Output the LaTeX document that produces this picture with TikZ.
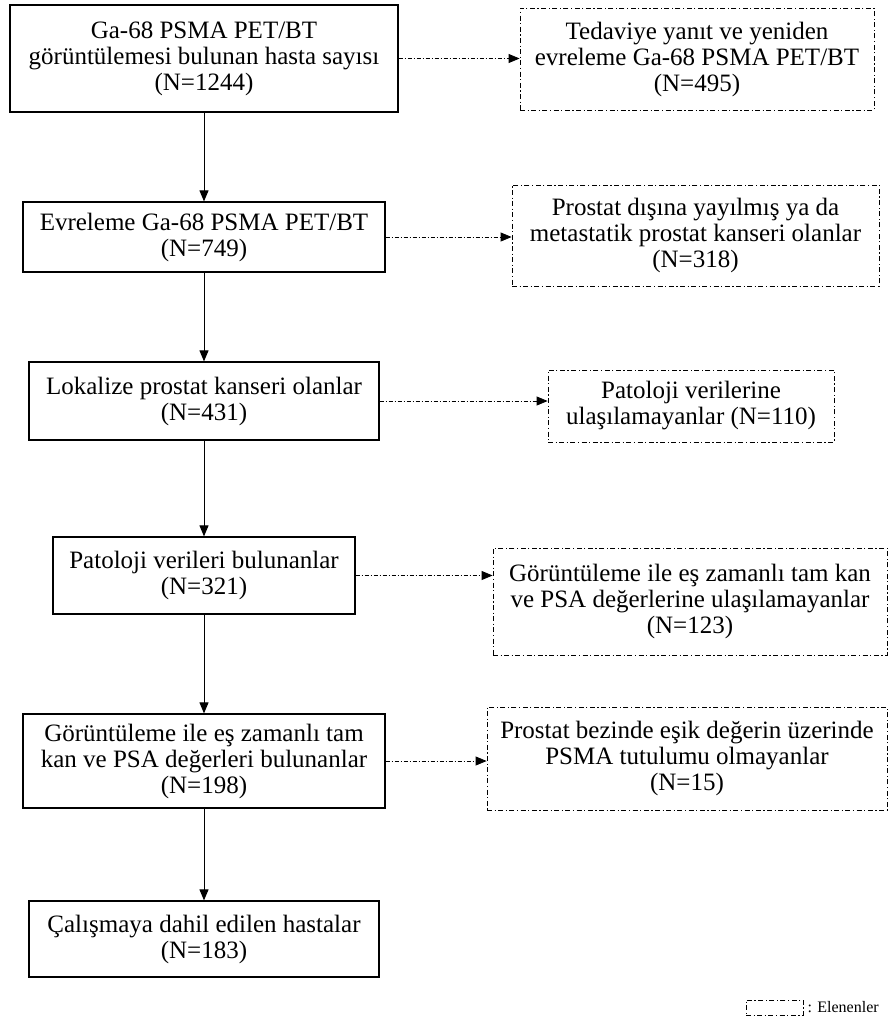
\documentclass[tikz,border=0pt]{standalone}
\usepackage{fontspec}
\setmainfont{Liberation Serif}
\usetikzlibrary{arrows.meta,positioning,calc}
\tikzset{
mainbox/.style={draw,line width=1.2pt,align=center,inner sep=0pt,font=\fontsize{25}{26}\selectfont},
outbox/.style={draw,line width=0.8pt,dash pattern=on 5pt off 2.5pt on 1.2pt off 2.5pt,align=center,inner sep=0pt,font=\fontsize{25}{26}\selectfont},
flow/.style={-{Triangle[length=11pt,width=9pt]},line width=1pt},
exclude/.style={-{Triangle[length=11pt,width=9pt]},line width=0.8pt,dash pattern=on 4pt off 2pt on 1pt off 2pt}
}

\begin{document}
\begin{tikzpicture}[x=1pt,y=-1pt]
\useasboundingbox (0,0) rectangle (888,1020);
% main column
\node[mainbox,minimum width=388pt,minimum height=107pt](all) at (204,58.5){Ga-68 PSMA PET/BT\\görüntülemesi bulunan hasta sayısı\\(N=1244)};
\node[mainbox,minimum width=362pt,minimum height=70pt](stage) at (204,237){Evreleme Ga-68 PSMA PET/BT\\(N=749)};
\node[mainbox,minimum width=350pt,minimum height=78pt](local) at (204,401){Lokalize prostat kanseri olanlar\\(N=431)};
\node[mainbox,minimum width=302pt,minimum height=77pt](patho) at (204,575.5){Patoloji verileri bulunanlar\\(N=321)};
\node[mainbox,minimum width=362pt,minimum height=94pt](blood) at (204,761){Görüntüleme ile eş zamanlı tam\\kan ve PSA değerleri bulunanlar\\(N=198)};
\node[mainbox,minimum width=350pt,minimum height=76pt](incl) at (204,939){Çalışmaya dahil edilen hastalar\\(N=183)};
% excluded
\node[outbox,minimum width=354pt,minimum height=102pt](exA) at (697,59){Tedaviye yanıt ve yeniden\\evreleme Ga-68 PSMA PET/BT\\(N=495)};
\node[outbox,minimum width=367pt,minimum height=101pt](exB) at (695.5,235.5){Prostat dışına yayılmış ya da\\metastatik prostat kanseri olanlar\\(N=318)};
\node[outbox,minimum width=286pt,minimum height=72pt](exC) at (691,406){Patoloji verilerine\\ulaşılamayanlar (N=110)};
\node[outbox,minimum width=394pt,minimum height=107pt](exD) at (690,601.5){Görüntüleme ile eş zamanlı tam kan\\ve PSA değerlerine ulaşılamayanlar\\(N=123)};
\node[outbox,minimum width=400pt,minimum height=103pt](exE) at (687,758.5){Prostat bezinde eşik değerin üzerinde\\PSMA tutulumu olmayanlar\\(N=15)};
% legend
\node[outbox,minimum width=57pt,minimum height=15pt](leg) at (774.5,1007.5){};
\node[right=4pt of leg,inner sep=0pt,font=\fontsize{16}{18}\selectfont](legtxt){: Elenenler};
% arrows
\draw[flow](all)--(stage);\draw[flow](stage)--(local);\draw[flow](local)--(patho);
\draw[flow](patho)--(blood);\draw[flow](blood)--(incl);
\draw[exclude](all.east)--(all.east-|exA.west);
\draw[exclude](stage.east)--(stage.east-|exB.west);
\draw[exclude](local.east)--(local.east-|exC.west);
\draw[exclude](patho.east)--(patho.east-|exD.west);
\draw[exclude](blood.east)--(blood.east-|exE.west);
\end{tikzpicture}
\end{document}
